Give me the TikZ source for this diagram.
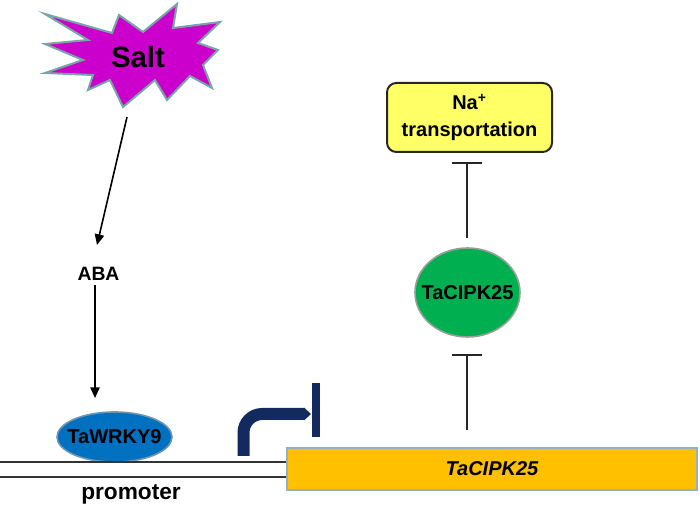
\documentclass[tikz,border=0pt]{standalone}
\usepackage{fontspec}
\setmainfont{Liberation Sans}
\usetikzlibrary{shapes.geometric,arrows.meta}
\definecolor{saltfill}{RGB}{204,0,204}
\definecolor{saltedge}{RGB}{120,165,165}
\definecolor{wrkyblue}{RGB}{0,112,192}
\definecolor{wrkyedge}{RGB}{110,150,180}
\definecolor{cipkgreen}{RGB}{0,176,80}
\definecolor{cipkedge}{RGB}{150,160,150}
\definecolor{geneorange}{RGB}{255,192,0}
\definecolor{geneedge}{RGB}{150,175,195}
\definecolor{nayellow}{RGB}{255,255,102}
\definecolor{navyarrow}{RGB}{18,42,94}
\tikzset{
  lbl/.style={font=\fontsize{14.5pt}{17pt}\selectfont\bfseries, inner sep=0pt},
  actarrow/.style={draw=black, line width=1.2pt, -{Triangle[length=8pt,width=7pt]}},
  inhibit/.style={draw=black!85, line width=1.2pt, -{Bar[width=22.5pt,line width=1.5pt]}},
}
\begin{document}
\begin{tikzpicture}[x=0.75pt,y=-0.75pt]
\useasboundingbox (0,0) rectangle (700,509);
% Salt starburst
\draw[fill=saltfill, draw=saltedge, line width=1.5pt, line join=miter]
  (45,14) -- (112,33) -- (119,15) -- (143,32) -- (177,4) -- (173,28) -- (220,22)
  -- (198,43) -- (218,50) -- (203,65) -- (212,88) -- (190,76) -- (167,100)
  -- (155,80) -- (123,107) -- (110,80) -- (88,90) -- (93,75) -- (45,73)
  -- (83,60) -- (45,44) -- (88,40) -- cycle;
\node[font=\fontsize{22pt}{26pt}\selectfont\bfseries, inner sep=0pt] (salt) at (138,57) {Salt};
\coordinate (saltbot) at (127,117);
% ABA
\node[lbl] (aba) at (98.5,274) {ABA};
% TaWRKY9
\node[ellipse, fill=wrkyblue, draw=wrkyedge, line width=1.2pt, minimum width=86.25pt, minimum height=37.5pt, inner sep=0pt] (wrky) at (114.5,437) {};
\node[font=\fontsize{15pt}{18pt}\selectfont\bfseries, inner sep=0pt] (wrkytext) at (wrky.center) {TaWRKY9};
% gene box
\node[rectangle, fill=geneorange, draw=geneedge, line width=1.5pt, minimum width=307.5pt, minimum height=31.5pt, inner sep=0pt,
  font=\fontsize{15pt}{18pt}\selectfont\bfseries\itshape] (gene) at (492,469) {TaCIPK25};
% promoter lines
\coordinate (la) at (0,462);
\coordinate (lb) at (0,477);
\draw[black!80, line width=0.9pt] (la) -- (la -| gene.west);
\draw[black!80, line width=0.9pt] (lb) -- (lb -| gene.west);
\node[font=\fontsize{17pt}{20pt}\selectfont\bfseries, inner sep=0pt] (prom) at (131,494) {promoter};
% TaCIPK25 protein
\node[ellipse, fill=cipkgreen, draw=cipkedge, line width=1.2pt, minimum width=78.75pt, minimum height=66.75pt, inner sep=0pt] (cipk) at (467.5,292.5) {};
\node[font=\fontsize{15pt}{18pt}\selectfont\bfseries, inner sep=0pt] (cipktext) at (cipk.center) {TaCIPK25};
% Na+ box
\node[rectangle, rounded corners=7pt, fill=nayellow, draw=black!85, line width=1.5pt, minimum width=123.75pt, minimum height=51.75pt,
  align=center, font=\fontsize{15pt}{20pt}\selectfont\bfseries] (na) at (469.5,117.5) {Na\textsuperscript{+}\\transportation};
% arrows
\coordinate (abatip) at (97,245);
\draw[actarrow] (saltbot) -- (abatip);
\coordinate (abab) at (95,285);
\coordinate (wrkytip) at (95,398);
\draw[actarrow] (abab) -- (wrkytip);
% inhibition lines
\coordinate (i1s) at (467,430);
\coordinate (i1e) at (467,354);
\draw[inhibit] (i1s) -- (i1e);
\coordinate (i2s) at (467,238);
\coordinate (i2e) at (467,162);
\draw[inhibit] (i2s) -- (i2e);
% promoter bent arrow
\coordinate (pa) at (243.5,456);
\coordinate (pb) at (243.5,414);
\coordinate (pc) at (311,414);
\draw[navyarrow, line width=9pt, rounded corners=14pt, -{Triangle[length=5pt,width=9pt]}] (pa) -- (pb) -- (pc);
\coordinate (bt) at (316,383);
\coordinate (bb) at (316,437);
\draw[navyarrow, line width=6pt] (bt) -- (bb);
\end{tikzpicture}
\end{document}
